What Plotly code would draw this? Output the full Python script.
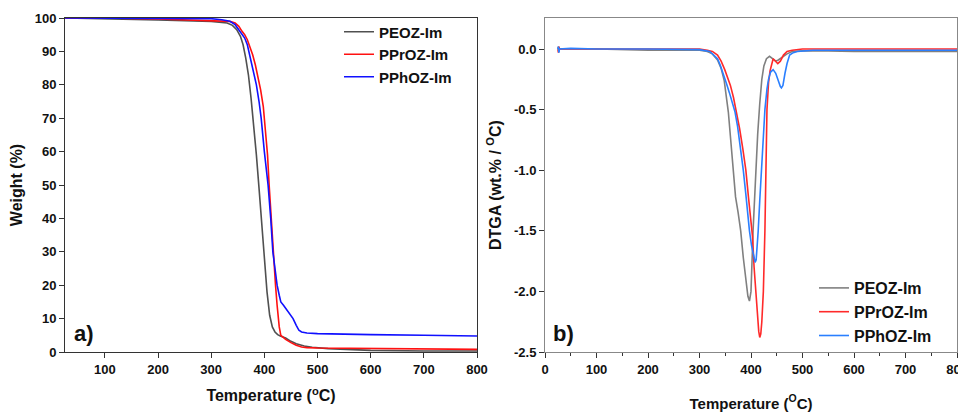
import plotly.graph_objects as go

# ---------------- TGA data (left panel) ----------------
t_peoz = [25, 100, 200, 300, 330, 340, 348, 355, 360, 365, 370, 375, 380, 385, 390, 395, 400, 405, 410,
          415, 420, 425, 430, 440, 450, 460, 475, 490, 520, 560, 600, 700, 800]
w_peoz = [100, 99.8, 99.4, 99.0, 98.5, 97.8, 96.5, 94.5, 92, 88, 83, 76, 68, 59, 49, 38, 27, 18, 11,
          7.5, 6, 5.2, 4.8, 4.2, 3.2, 2.5, 1.8, 1.4, 1.0, 0.7, 0.5, 0.3, 0.3]

t_pproz = [25, 100, 200, 250, 300, 320, 335, 345, 352, 358, 363, 368, 373, 378, 383, 388, 393, 398, 400,
           403, 406, 409, 412, 416, 419, 421, 424, 426, 428, 431, 436, 440, 450, 460, 470, 480, 500, 550,
           600, 700, 800]
w_pproz = [100, 100, 99.7, 99.5, 99.3, 99.2, 99.0, 98.5, 97.5, 96, 95, 93.5, 91.5, 89, 86, 82.5, 78.5, 73.5, 70,
           65, 59, 50, 42, 30, 24, 20, 14, 10, 7.5, 5, 4.3, 3.8, 2.8, 2.0, 1.5, 1.3, 1.2, 1.1,
           1.0, 0.9, 0.8]

t_pphoz = [25, 100, 200, 300, 320, 335, 345, 352, 358, 363, 368, 371, 378, 385, 390, 394, 400, 404, 407,
           412, 416, 420, 424, 428, 431, 436, 441, 447, 454, 460, 465, 470, 480, 500, 550, 600, 700, 800]
w_pphoz = [100, 100, 100, 99.8, 99.5, 99, 98, 96.5, 95, 94, 92, 90, 85, 80, 75, 70, 60, 55, 50,
           40, 30, 25, 20, 17, 15, 14, 12.8, 11.5, 10, 8, 6.5, 6.0, 5.7, 5.5, 5.3, 5.2, 5.0, 4.8]

# ---------------- DTGA data (right panel) ----------------
td_peoz = [25, 26, 27, 28, 50, 100, 200, 300, 315, 325, 335, 342, 348, 352, 356, 360, 365, 370, 375, 380,
           385, 390, 394, 397, 400, 404, 406, 409, 413, 417, 421, 425, 430, 436, 442, 448, 453, 460, 470,
           480, 500, 550, 600, 700, 800]
d_peoz = [0, 0.02, -0.02, 0, 0, 0, -0.01, -0.01, -0.02, -0.04, -0.09, -0.16, -0.26, -0.38, -0.52, -0.72,
          -1.0, -1.22, -1.35, -1.5, -1.72, -1.92, -2.04, -2.08, -2.0, -1.5, -1.3, -1.0, -0.7, -0.45, -0.25,
          -0.14, -0.08, -0.06, -0.08, -0.1, -0.09, -0.07, -0.04, -0.02, -0.015, -0.015, -0.02, -0.02, -0.02]

td_pproz = [25, 26, 27, 28, 100, 200, 300, 315, 325, 335, 342, 349, 355, 360, 366, 372, 378, 384, 390,
            395, 399, 403, 406, 409, 412, 415, 417, 419, 421, 424, 427, 429, 431, 434, 437, 443, 447, 452,
            457, 463, 470, 480, 500, 600, 800]
d_pproz = [0, -0.03, 0.02, 0, 0, 0, 0, -0.01, -0.02, -0.05, -0.1, -0.17, -0.24, -0.3, -0.4, -0.52, -0.66,
           -0.82, -1.0, -1.22, -1.4, -1.55, -1.8, -2.0, -2.2, -2.33, -2.38, -2.35, -2.25, -2.0, -1.5,
           -1.0, -0.5, -0.28, -0.18, -0.08, -0.1, -0.12, -0.1, -0.05, -0.02, -0.01, 0, 0, 0]

td_pphoz = [25, 26, 27, 28, 50, 100, 200, 300, 320, 335, 340, 346, 352, 358, 364, 369, 374, 380, 385, 390,
            394, 397, 401, 405, 408, 410, 412, 414, 417, 420, 424, 427, 431, 434, 438, 443, 448, 453, 457,
            459, 462, 466, 470, 475, 482, 490, 520, 600, 800]
d_pphoz = [0, 0.02, -0.03, 0, 0.005, 0, 0, -0.005, -0.02, -0.08, -0.13, -0.2, -0.28, -0.36, -0.44, -0.52,
           -0.64, -0.82, -1.0, -1.2, -1.38, -1.5, -1.62, -1.72, -1.76, -1.74, -1.65, -1.5, -1.25, -1.0, -0.7,
           -0.5, -0.33, -0.25, -0.19, -0.17, -0.2, -0.27, -0.31, -0.32, -0.3, -0.2, -0.12, -0.05, -0.03,
           -0.02, -0.01, -0.01, -0.01]

names = ["PEOZ-Im", "PPrOZ-Im", "PPhOZ-Im"]
left_colors = ["#505050", "#ff1010", "#1010ff"]
right_colors = ["#808080", "#ff2a2a", "#2a7fff"]

FONT = "Liberation Sans, Arial, sans-serif"

# The page has an 8 px body margin, so the figure is sized to fit the 966x412 window.
W, H = 958, 404

fig = go.Figure()
for x, y, n, c in zip([t_peoz, t_pproz, t_pphoz], [w_peoz, w_pproz, w_pphoz], names, left_colors):
    fig.add_trace(go.Scatter(x=x, y=y, name=n, mode="lines", line=dict(color=c, width=1.6),
                             xaxis="x", yaxis="y", legend="legend"))
for x, y, n, c in zip([td_peoz, td_pproz, td_pphoz], [d_peoz, d_pproz, d_pphoz], names, right_colors):
    fig.add_trace(go.Scatter(x=x, y=y, name=n, mode="lines", line=dict(color=c, width=1.6),
                             xaxis="x2", yaxis="y2", legend="legend2"))

tickfont = dict(family=FONT, size=13, color="#111111", weight="bold")
titlefont = dict(family=FONT, size=16, color="#111111", weight="bold")

common_axis = dict(showgrid=False, zeroline=False, showline=True, mirror=True, ticks="outside",
                   ticklen=5, tickwidth=1, tickfont=tickfont, automargin=False, ticklabeloverflow="allow")

ydom = [1 - 344 / H, 1 - 10 / H]

fig.update_layout(
    width=W, height=H,
    margin=dict(l=0, r=0, t=0, b=0),
    paper_bgcolor="white", plot_bgcolor="white",
    font=dict(family=FONT, color="#111111"),
    xaxis=dict(domain=[57 / W, 469 / W], range=[25, 800], tickvals=[100, 200, 300, 400, 500, 600, 700, 800],
               linecolor="#333333", tickcolor="#333333",
               title=dict(text="Temperature (<sup>o</sup>C)", font=titlefont, standoff=14),
               **common_axis),
    yaxis=dict(domain=ydom, range=[0, 100], dtick=10, anchor="x",
               linecolor="#333333", tickcolor="#333333",
               title=dict(text="Weight (%)", font=titlefont, standoff=8),
               **common_axis),
    xaxis2=dict(domain=[537 / W, 949 / W], range=[0, 800], dtick=100, anchor="y2",
                linecolor="#888888", tickcolor="#333333",
                minor=dict(ticks="outside", dtick=50, ticklen=3, tickcolor="#333333"),
                title=dict(text="Temperature (<sup>O</sup>C)",
                           font=dict(family=FONT, size=15, color="#111111", weight="bold"), standoff=22),
                **common_axis),
    yaxis2=dict(domain=ydom, range=[-2.5, 0.256], tickvals=[0, -0.5, -1.0, -1.5, -2.0, -2.5],
                ticktext=["0.0", "-0.5", "-1.0", "-1.5", "-2.0", "-2.5"], anchor="x2",
                linecolor="#888888", tickcolor="#333333",
                title=dict(text="DTGA (wt.% / <sup>O</sup>C)", font=titlefont, standoff=8),
                **common_axis),
    legend=dict(x=331 / W, y=1 - 7.5 / H, xanchor="left", yanchor="top", bgcolor="rgba(0,0,0,0)",
                font=dict(family=FONT, size=15, color="#111111", weight="bold"), tracegroupgap=0),
    legend2=dict(x=806 / W, y=1 - 263 / H, xanchor="left", yanchor="top", bgcolor="rgba(0,0,0,0)",
                 font=dict(family=FONT, size=16, color="#111111", weight="bold"), tracegroupgap=0),
    annotations=[
        dict(text="<b>a)</b>", x=64 / W, y=1 - 325 / H, xref="paper", yref="paper", xanchor="left",
             yanchor="middle", showarrow=False, font=dict(family=FONT, size=22, color="#111111")),
        dict(text="<b>b)</b>", x=543 / W, y=1 - 325 / H, xref="paper", yref="paper", xanchor="left",
             yanchor="middle", showarrow=False, font=dict(family=FONT, size=22, color="#111111")),
    ],
)

fig.write_html("out.html")
